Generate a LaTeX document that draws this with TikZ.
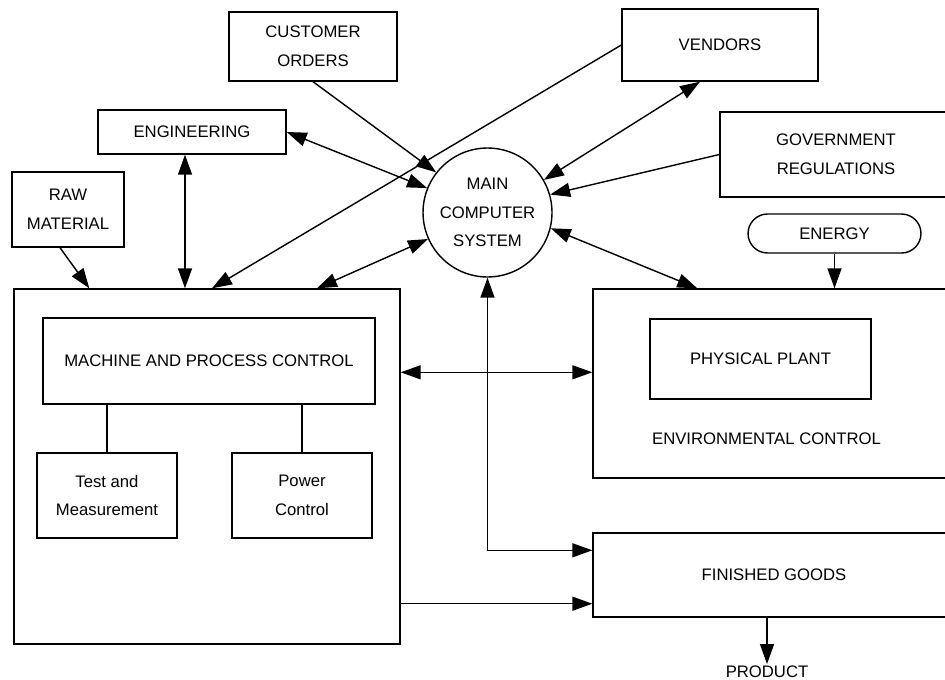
\documentclass[tikz,border=0pt]{standalone}
\usepackage{fontspec}
\setmainfont{Liberation Sans}
\usetikzlibrary{arrows.meta}

\begin{document}
\begin{tikzpicture}[
  x=0.02cm, y=-0.02cm,
  every node/.style={font=\fontsize{9.5}{16.4}\selectfont, align=center},
  box/.style={draw, line width=0.8pt, inner sep=0pt},
  link/.style={line width=0.8pt},
  >={Triangle[length=4mm,width=2.8mm]}
]
\useasboundingbox (0,0) rectangle (945,679);
% outside sources
\node[box, minimum width=3.36cm, minimum height=1.38cm] (cust) at (313,46.5) {CUSTOMER\\ORDERS};
\node[box, minimum width=3.76cm, minimum height=0.88cm] (eng) at (192,132) {ENGINEERING};
\node[box, minimum width=2.24cm, minimum height=1.5cm] (raw) at (68,209.5) {RAW\\MATERIAL};
\node[box, minimum width=3.92cm, minimum height=1.44cm] (vend) at (720,45) {VENDORS};
\node[box, minimum width=4.64cm, minimum height=1.7cm] (gov) at (836,154.5) {GOVERNMENT\\REGULATIONS};
\node[box, rounded corners=0.39cm, minimum width=3.46cm, minimum height=0.78cm] (energy) at (834.5,233.5) {ENERGY};
\node[box, circle, minimum size=2.58cm] (comp) at (487.5,212.5) {MAIN\\COMPUTER\\SYSTEM};
% plant floor
\node[box, minimum width=7.72cm, minimum height=7.1cm] (mfg) at (207,466.5) {};
\node[box, minimum width=6.64cm, minimum height=1.72cm] (mpc) at (209,361) {MACHINE AND PROCESS CONTROL};
\node[box, minimum width=2.8cm, minimum height=1.7cm] (test) at (107,495.5) {Test and\\Measurement};
\node[box, minimum width=2.8cm, minimum height=1.7cm] (power) at (302,495.5) {Power\\Control};
\node[box, minimum width=7.24cm, minimum height=3.78cm] (env) at (774,383.5) {};
\node[box, minimum width=4.42cm, minimum height=1.6cm] (plant) at (760.5,359) {PHYSICAL PLANT};
\node (envlbl) at (766.5,439) {ENVIRONMENTAL CONTROL};
\node[box, minimum width=7.24cm, minimum height=1.68cm] (fg) at (774,575) {FINISHED GOODS};
\node[anchor=north, inner sep=1pt] (product) at (767,664) {PRODUCT};
% helper points
\coordinate (engfoot) at ([xshift=-0.14cm]eng.south);
\coordinate (envin) at ([yshift=-1.68cm]env.north west);
\coordinate (fgin) at ([yshift=-0.36cm]fg.north west);
\coordinate (fgout) at ([yshift=0.28cm]fg.south west);
% data flows
\draw[link,->] (cust.south) -- (comp.142);
\draw[link,<->] (eng.east) -- (comp.158.6);
\draw[link,<->] (engfoot) -- (engfoot |- mfg.north);
\draw[link,->] ([xshift=-0.16cm]raw.south) -- ([xshift=1.52cm]mfg.north west);
\draw[link,->] (vend.west) -- ([xshift=0.1cm]mfg.north);
\draw[link,<->] (comp.204.4) -- ([xshift=2.2cm]mfg.north);
\draw[link,<->] ([xshift=-0.4cm]vend.south) -- (comp.30.8);
\draw[link,->] (gov.west) -- (comp.16.8);
\draw[link,<->] (comp.-14.3) -- ([xshift=2.1cm]env.north west);
\draw[link,->] (energy.south) -- (energy.south |- env.north);
\draw[link] (mpc.south -| test.north) -- (test.north);
\draw[link] (mpc.south -| power.north) -- (power.north);
\draw[link,<->] (envin -| mfg.east) -- (envin);
\draw[link,<->] (comp.south) |- (fgin);
\draw[link,->] (fgout -| mfg.east) -- (fgout);
\draw[link,->] (fg.south -| product.north) -- (product.north);
\end{tikzpicture}
\end{document}
